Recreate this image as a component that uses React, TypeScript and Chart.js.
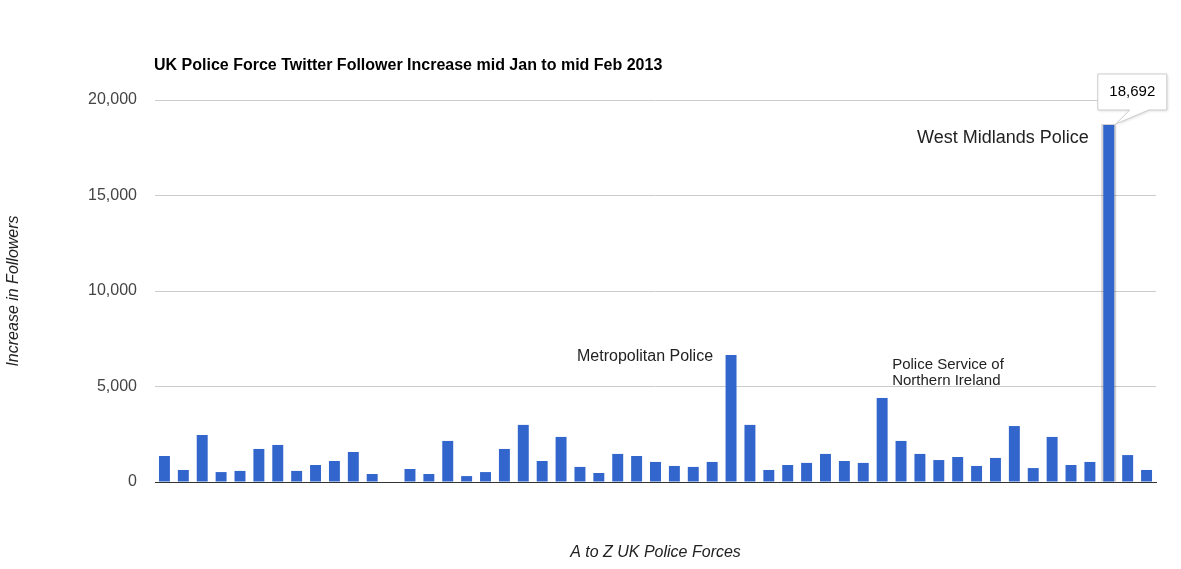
import { useEffect, useRef } from "react";
import Chart from "chart.js/auto";

const FONT = "Arial, 'Liberation Sans', sans-serif";

// 53 forces, A to Z (the 13th has no data)
const forces: string[] = Array.from({ length: 53 }, (_, i) => `Force ${i + 1}`);
forces[30] = "Metropolitan Police";
forces[38] = "Police Service of Northern Ireland";
forces[50] = "West Midlands Police";

const increase: (number | null)[] = [
  1360, 630, 2460, 520, 580, 1730, 1940, 580, 890, 1100,
  1570, 420, null, 680, 420, 2150, 310, 520, 1730, 2990,
  1100, 2360, 790, 470, 1470, 1360, 1050, 840, 790, 1050,
  6650, 2990, 630, 890, 1000, 1470, 1100, 1000, 4400, 2150,
  1470, 1150, 1310, 840, 1260, 2930, 730, 2360, 890, 1050,
  18692, 1410, 630,
];

const yTicks = [0, 5000, 10000, 15000, 20000];

const chartTitle = "UK Police Force Twitter Follower Increase mid Jan to mid Feb 2013";
const yTitle = "Increase in Followers";
const xTitle = "A to Z UK Police Forces";
const selectedIndex = 50;

const annotationsPlugin = {
  id: "annotations",
  beforeDatasetsDraw(chart: any) {
    const ctx = chart.ctx;
    const bar = chart.getDatasetMeta(0).data[selectedIndex];
    if (!bar) return;
    const w = bar.width;
    ctx.save();
    ctx.fillStyle = "rgba(0,0,0,0.18)";
    ctx.fillRect(bar.x - w / 2 - 2, bar.y - 1, w + 4, bar.base - bar.y + 1);
    ctx.restore();
  },
  afterDraw(chart: any) {
    const ctx = chart.ctx;
    const bars = chart.getDatasetMeta(0).data;
    ctx.save();

    // title
    ctx.fillStyle = "#000";
    ctx.font = `bold 16px ${FONT}`;
    ctx.textAlign = "left";
    ctx.textBaseline = "middle";
    ctx.fillText(chartTitle, chart.chartArea.left - 1, 66);

    ctx.fillStyle = "#222";
    // Metropolitan
    const met = bars[30];
    ctx.font = `16px ${FONT}`;
    ctx.textAlign = "right";
    ctx.fillText("Metropolitan Police", met.x - 18, met.y + 2);

    // PSNI
    const ni = bars[38];
    ctx.font = `15px ${FONT}`;
    ctx.textAlign = "left";
    ctx.fillText("Police Service of", ni.x + 10, ni.y - 33);
    ctx.fillText("Northern Ireland", ni.x + 10, ni.y - 17);

    // West Midlands
    const wm = bars[selectedIndex];
    ctx.font = `18px ${FONT}`;
    ctx.textAlign = "right";
    ctx.fillText("West Midlands Police", wm.x - 20, wm.y + 13);

    // callout
    const l = wm.x - 11, r = wm.x + 58, t = wm.y - 51, b = wm.y - 15;
    ctx.beginPath();
    ctx.moveTo(l, t);
    ctx.lineTo(r, t);
    ctx.lineTo(r, b);
    ctx.lineTo(wm.x + 40, b);
    ctx.lineTo(wm.x + 7, wm.y - 1);
    ctx.lineTo(wm.x + 21, b);
    ctx.lineTo(l, b);
    ctx.closePath();
    ctx.shadowColor = "rgba(0,0,0,0.15)";
    ctx.shadowBlur = 3;
    ctx.shadowOffsetX = 1;
    ctx.shadowOffsetY = 1;
    ctx.fillStyle = "#fff";
    ctx.fill();
    ctx.shadowColor = "transparent";
    ctx.strokeStyle = "#cccccc";
    ctx.lineWidth = 1;
    ctx.stroke();
    ctx.fillStyle = "#000";
    ctx.font = `15px ${FONT}`;
    ctx.textAlign = "center";
    ctx.fillText((increase[selectedIndex] as number).toLocaleString("en-US"), wm.x + 23.5, wm.y - 33);

    ctx.restore();
  },
};

export default function App() {
  const chartRef = useRef<HTMLCanvasElement>(null);

  useEffect(() => {
    if (!chartRef.current) return;
    const chart = new Chart(chartRef.current, {
      type: "bar",
      data: {
        labels: forces,
        datasets: [
          {
            label: "Increase in Followers",
            data: increase,
            backgroundColor: "#3366cc",
            categoryPercentage: 1,
            barPercentage: 0.58,
          },
        ],
      },
      options: {
        animation: false,
        responsive: true,
        maintainAspectRatio: false,
        layout: { padding: { top: 100, right: 25, bottom: 0, left: 0 } },
        plugins: {
          legend: { display: false },
          tooltip: { enabled: false },
        },
        scales: {
          x: {
            grid: { display: false },
            border: { color: "#333", width: 1 },
            ticks: { display: false },
            title: {
              display: true,
              text: xTitle,
              color: "#222",
              font: { family: FONT, size: 16, style: "italic" },
              padding: { top: 0, bottom: 7 },
            },
            afterFit: (scale: any) => {
              scale.height = 87;
            },
          },
          y: {
            min: 0,
            max: 20000,
            afterBuildTicks: (scale: any) => {
              scale.ticks = yTicks.map((v) => ({ value: v }));
            },
            grid: { color: "#cccccc", drawTicks: false, tickLength: 0 },
            border: { display: false },
            ticks: {
              color: "#444",
              padding: 18,
              font: { family: FONT, size: 16 },
              callback: (v: any) => Number(v).toLocaleString("en-US"),
            },
            title: {
              display: true,
              text: yTitle,
              color: "#222",
              font: { family: FONT, size: 16, style: "italic" },
              padding: { top: 4, bottom: 0 },
            },
            afterFit: (scale: any) => {
              scale.width = 155;
            },
          },
        },
      },
      plugins: [annotationsPlugin],
    });
    return () => chart.destroy();
  }, []);

  return (
    <div style={{ position: "absolute", left: 0, top: 0, width: 1181, height: 569, background: "#fff" }}>
      <canvas ref={chartRef}></canvas>
    </div>
  );
}
